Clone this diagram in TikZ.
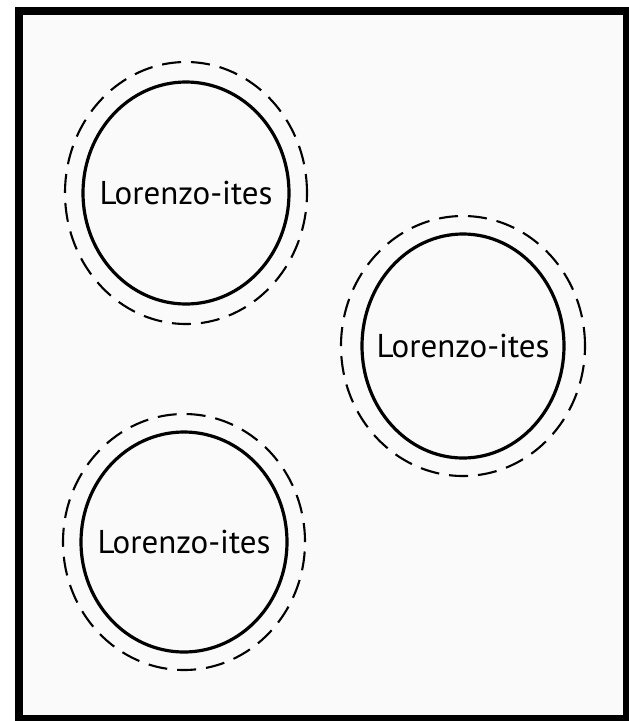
\documentclass[tikz,border=0pt]{standalone}
\usepackage{fontspec}
\setmainfont{PT Sans}
\usetikzlibrary{shapes.geometric, positioning}
\definecolor{paper}{RGB}{250,250,250}
\tikzset{
  label/.style={inner sep=0pt, font=\fontsize{33}{38}\selectfont},
  ring/.style={line width=3.2pt},
  halo/.style={line width=2.1pt, dash pattern=on 19pt off 10pt}
}

\begin{document}
\begin{tikzpicture}[x=1pt, y=-1pt]
\useasboundingbox (0,0) rectangle (629,721);
\draw[line width=8pt, fill=paper] (19,11) rectangle (627,719);

\node[label] (top) at (186,193) {Lorenzo-ites};
\node[label] (right) at (463,346) {Lorenzo-ites};
\node[label] (bottom) at (184,542) {Lorenzo-ites};

\draw[ring] (top.center) ellipse [x radius=103pt, y radius=111pt];
\draw[halo] (top.center) ellipse [x radius=121pt, y radius=131pt];
\draw[ring] (right.center) ellipse [x radius=101pt, y radius=112pt];
\draw[halo] (right.center) ellipse [x radius=122pt, y radius=130pt];
\draw[ring] (bottom.center) ellipse [x radius=103pt, y radius=110pt];
\draw[halo] (bottom.center) ellipse [x radius=121pt, y radius=128pt];
\end{tikzpicture}
\end{document}
